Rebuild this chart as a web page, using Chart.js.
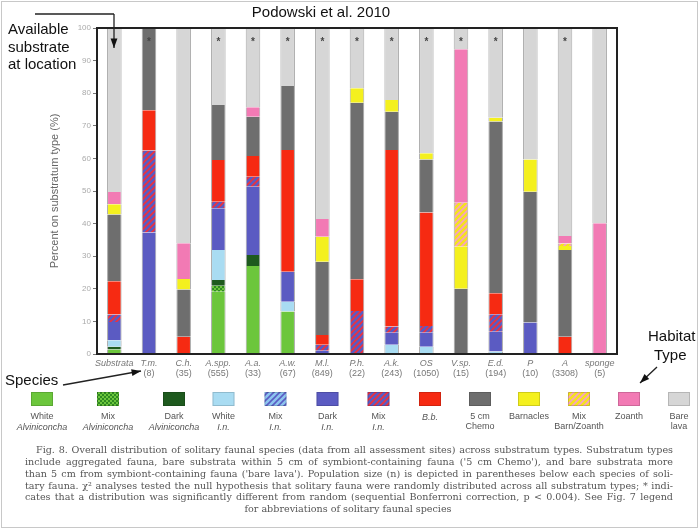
<!DOCTYPE html>
<html>
<head>
<meta charset="utf-8">
<script src="https://cdn.jsdelivr.net/npm/chart.js@4.4.0/dist/chart.umd.min.js"></script>
<style>
  html, body { margin: 0; padding: 0; background: #fff; }
  #grafico { display: block; }
</style>
</head>
<body>
<canvas id="grafico" width="699" height="529"></canvas>
<script>
// categorias (especies) e tamanho da populacao
const especies = ["Substrata", "T.m.", "C.h.", "A.spp.", "A.a.", "A.w.", "M.l.", "P.h.", "A.k.", "OS", "V.sp.", "E.d.", "P", "A", "sponge"];
const populacao = ["", "(8)", "(35)", "(555)", "(33)", "(67)", "(849)", "(22)", "(243)", "(1050)", "(15)", "(194)", "(10)", "(3308)", "(5)"];
const significativo = [0, 1, 0, 1, 1, 1, 1, 1, 1, 1, 1, 1, 0, 1, 0];

// percentuais por tipo de substrato (de baixo para cima)
const whiteAlv  = [1.4, 0, 0, 19.1, 27.0, 13.0, 0, 0, 0, 0, 0, 0, 0, 0, 0];
const mixAlv    = [0, 0, 0, 1.8, 0, 0, 0, 0, 0, 0, 0, 0, 0, 0, 0];
const darkAlv   = [0.8, 0, 0, 1.8, 3.4, 0, 0, 0, 0, 0, 0, 0, 0, 0, 0];
const whiteIn   = [2.0, 0, 0, 9.2, 0, 3.0, 0, 0, 2.8, 2.2, 0, 0.8, 0, 0, 0];
const mixIn     = [0, 0, 0, 0, 0, 0, 0, 0, 0, 0, 0, 0, 0, 0, 0];
const darkIn    = [5.6, 37.3, 0, 12.8, 20.9, 9.2, 1.0, 0, 3.7, 4.3, 0, 6.0, 9.7, 0, 0];
const mixInBb   = [2.3, 25.1, 0, 2.0, 3.1, 0, 1.8, 13.2, 1.9, 2.1, 0, 5.4, 0, 0, 0];
const bb        = [10.2, 12.4, 5.3, 12.8, 6.3, 37.4, 3.0, 9.7, 54.2, 34.8, 0, 6.4, 0, 5.3, 0];
const chemo     = [20.5, 25.2, 14.5, 16.9, 12.1, 19.6, 22.5, 54.2, 11.7, 16.3, 20.0, 52.7, 40.1, 26.6, 0];
const barnacles = [3.1, 0, 3.2, 0, 0, 0, 7.7, 4.4, 3.6, 1.9, 12.9, 1.2, 9.9, 1.2, 0];
const mixBarnZo = [0, 0, 0, 0, 0, 0, 0, 0, 0, 0, 13.5, 0, 0, 0.8, 0];
const zoanth    = [3.8, 0, 11.0, 0, 2.9, 0, 5.4, 0, 0, 0, 47.1, 0, 0, 2.3, 40.1];
const bareLava  = [50.3, 0, 66.0, 23.6, 24.3, 17.8, 58.6, 18.5, 22.1, 38.4, 6.5, 27.5, 40.3, 63.8, 59.9];

const yTicks = [0, 10, 20, 30, 40, 50, 60, 70, 80, 90, 100];

function hachura(fundo, linha) {
  const c = document.createElement('canvas');
  c.width = c.height = 6;
  const g = c.getContext('2d');
  g.fillStyle = fundo;
  g.fillRect(0, 0, 6, 6);
  g.strokeStyle = linha;
  g.lineWidth = 1.6;
  g.beginPath();
  g.moveTo(0, 6); g.lineTo(6, 0);
  g.moveTo(-3, 3); g.lineTo(3, -3);
  g.moveTo(3, 9); g.lineTo(9, 3);
  g.stroke();
  return g.createPattern(c, 'repeat');
}

function xadrez(fundo, ponto) {
  const c = document.createElement('canvas');
  c.width = c.height = 4;
  const g = c.getContext('2d');
  g.fillStyle = fundo;
  g.fillRect(0, 0, 4, 4);
  g.fillStyle = ponto;
  g.fillRect(0, 0, 2, 2);
  g.fillRect(2, 2, 2, 2);
  return g.createPattern(c, 'repeat');
}

const series = [
  { nome: ["White", "Alviniconcha"], dados: whiteAlv, cor: '#6cc63c' },
  { nome: ["Mix", "Alviniconcha"], dados: mixAlv, cor: xadrez('#6cc63c', '#2f8a22') },
  { nome: ["Dark", "Alviniconcha"], dados: darkAlv, cor: '#1e5a1e' },
  { nome: ["White", "I.n."], dados: whiteIn, cor: '#a9dcf2' },
  { nome: ["Mix", "I.n."], dados: mixIn, cor: hachura('#8cc4ee', '#5a5cc4') },
  { nome: ["Dark", "I.n."], dados: darkIn, cor: '#5b5bc2' },
  { nome: ["Mix", "I.n."], dados: mixInBb, cor: hachura('#5b5bc2', '#f0303a') },
  { nome: ["B.b."], dados: bb, cor: '#f62a12' },
  { nome: ["5 cm", "Chemo"], dados: chemo, cor: '#6e6e6e' },
  { nome: ["Barnacles"], dados: barnacles, cor: '#f4f01e' },
  { nome: ["Mix", "Barn/Zoanth"], dados: mixBarnZo, cor: hachura('#f4e21e', '#f6a0c8') },
  { nome: ["Zoanth"], dados: zoanth, cor: '#f27ab4' },
  { nome: ["Bare", "lava"], dados: bareLava, cor: '#d6d6d6' }
];

const legendaX = [42, 108, 174, 223.5, 275.5, 327.5, 378.5, 430, 480, 529, 579, 629, 679];
const italico = [[false, true], [false, true], [false, true], [false, true], [false, true], [false, true], [false, true], [true], [false, false], [false], [false, false], [false], [false, false]];

const legenda = [
  "Fig. 8. Overall distribution of solitary faunal species (data from all assessment sites) across substratum types. Substratum types",
  "include aggregated fauna, bare substrata within 5 cm of symbiont-containing fauna ('5 cm Chemo'), and bare substrata more",
  "than 5 cm from symbiont-containing fauna ('bare lava'). Population size (n) is depicted in parentheses below each species of soli-",
  "tary fauna. \u03c7\u00b2 analyses tested the null hypothesis that solitary fauna were randomly distributed across all substratum types; * indi-",
  "cates that a distribution was significantly different from random (sequential Bonferroni correction, p < 0.004). See Fig. 7 legend",
  "for abbreviations of solitary faunal species"
];

function seta(ctx, x1, y1, x2, y2) {
  ctx.beginPath();
  ctx.moveTo(x1, y1);
  ctx.lineTo(x2, y2);
  ctx.stroke();
  const ang = Math.atan2(y2 - y1, x2 - x1);
  ctx.beginPath();
  ctx.moveTo(x2, y2);
  ctx.lineTo(x2 - 10 * Math.cos(ang - 0.35), y2 - 10 * Math.sin(ang - 0.35));
  ctx.lineTo(x2 - 10 * Math.cos(ang + 0.35), y2 - 10 * Math.sin(ang + 0.35));
  ctx.closePath();
  ctx.fill();
}

function justificar(ctx, texto, x, y, largura) {
  const palavras = texto.split(' ');
  const total = palavras.reduce((s, p) => s + ctx.measureText(p).width, 0);
  const espaco = (largura - total) / (palavras.length - 1);
  let cx = x;
  palavras.forEach(p => {
    ctx.fillText(p, cx, y);
    cx += ctx.measureText(p).width + espaco;
  });
}

const desenhos = {
  id: 'desenhos',
  afterDraw(chart) {
    const ctx = chart.ctx;
    const area = chart.chartArea;
    const xs = chart.scales.x;
    ctx.save();

    // moldura do grafico
    ctx.strokeStyle = '#222';
    ctx.lineWidth = 2;
    ctx.strokeRect(area.left, area.top, area.right - area.left, area.bottom - area.top);

    // asteriscos
    ctx.fillStyle = '#444';
    ctx.font = 'bold 10px Arial';
    ctx.textAlign = 'center';
    ctx.textBaseline = 'middle';
    significativo.forEach((s, i) => {
      if (s) ctx.fillText('*', xs.getPixelForValue(i), 42);
    });

    // rotulos das especies
    ctx.fillStyle = '#777';
    especies.forEach((e, i) => {
      const x = xs.getPixelForValue(i);
      ctx.font = 'italic 9px "Liberation Sans", Arial';
      ctx.fillText(e, x, area.bottom + 9);
      ctx.font = '9px "Liberation Sans", Arial';
      if (populacao[i]) ctx.fillText(populacao[i], x, area.bottom + 20);
    });

    // titulo e anotacoes
    ctx.fillStyle = '#111';
    ctx.font = '15px "Liberation Sans", Arial';
    ctx.fillText('Podowski et al. 2010', 321, 13);
    ctx.textAlign = 'left';
    ctx.fillText('Available', 8, 30);
    ctx.fillText('substrate', 8, 48);
    ctx.fillText('at location', 8, 65);
    ctx.fillText('Species', 5, 381);
    ctx.fillText('Habitat', 648, 337);
    ctx.fillText('Type', 654, 356);

    ctx.strokeStyle = '#222';
    ctx.lineWidth = 1.3;
    ctx.beginPath();
    ctx.moveTo(35, 14);
    ctx.lineTo(114, 14);
    ctx.stroke();
    seta(ctx, 114, 14, 114, 48);
    seta(ctx, 63, 385, 141, 371);
    seta(ctx, 657, 367, 640, 383);

    // legenda dos tipos de habitat
    series.forEach((s, i) => {
      const cx = legendaX[i];
      ctx.fillStyle = s.cor;
      ctx.fillRect(cx - 11, 392, 22, 14);
      ctx.strokeStyle = 'rgba(0,0,0,0.15)';
      ctx.lineWidth = 1;
      ctx.strokeRect(cx - 10.5, 392.5, 21, 13);
      ctx.fillStyle = '#555';
      ctx.textAlign = 'center';
      s.nome.forEach((t, j) => {
        ctx.font = (italico[i][j] ? 'italic ' : '') + '9px "Liberation Sans", Arial';
        ctx.fillText(t, cx, 417 + j * 10);
      });
    });

    // texto da figura, fonte ajustada a largura
    ctx.font = '10px "DejaVu Serif", serif';
    const maior = Math.max(...legenda.slice(0, -1).map(l => ctx.measureText(l).width));
    const tam = Math.min(10.5, 10 * 636 / maior);
    ctx.font = tam.toFixed(2) + 'px "DejaVu Serif", serif';
    ctx.fillStyle = '#555';
    ctx.textAlign = 'left';
    legenda.forEach((l, i) => {
      const y = 451 + i * 11.7;
      if (i === legenda.length - 1) {
        ctx.textAlign = 'center';
        ctx.fillText(l, 348, y);
      } else if (i === 0) {
        justificar(ctx, l, 36, y, 637);
      } else {
        justificar(ctx, l, 25, y, 648);
      }
    });

    // borda da imagem
    ctx.strokeStyle = '#c8c8c8';
    ctx.lineWidth = 1;
    ctx.strokeRect(1.5, 1.5, 696, 526);
    ctx.restore();
  }
};

const grafico = new Chart(document.getElementById('grafico').getContext('2d'), {
  type: 'bar',
  data: {
    labels: especies,
    datasets: series.map(s => ({
      label: s.nome.join(' '),
      data: s.dados,
      backgroundColor: s.cor,
      borderColor: '#a8a8a8',
      borderWidth: { left: 1, right: 1, top: 0, bottom: 0 },
      borderSkipped: false,
      barPercentage: 0.42,
      categoryPercentage: 1
    }))
  },
  options: {
    responsive: false,
    animation: false,
    layout: { padding: { left: 44, right: 82, top: 28, bottom: 145 } },
    plugins: {
      legend: { display: false },
      tooltip: { enabled: false }
    },
    scales: {
      x: {
        stacked: true,
        grid: { display: false },
        border: { display: false },
        ticks: { display: false },
        afterFit: scale => { scale.height = 30; }
      },
      y: {
        stacked: true,
        min: 0,
        max: 100,
        afterBuildTicks: scale => { scale.ticks = yTicks.map(v => ({ value: v })); },
        grid: { drawOnChartArea: false, drawTicks: true, tickLength: 4, color: '#777' },
        border: { display: false },
        ticks: { color: '#aaa', font: { size: 8, family: '"Liberation Sans", Arial' }, padding: 2 },
        title: {
          display: true,
          text: 'Percent on substratum type (%)',
          color: '#666',
          font: { size: 11, family: '"Liberation Sans", Arial' }
        },
        afterFit: scale => { scale.width = 53; }
      }
    }
  },
  plugins: [desenhos]
});
</script>
</body>
</html>
